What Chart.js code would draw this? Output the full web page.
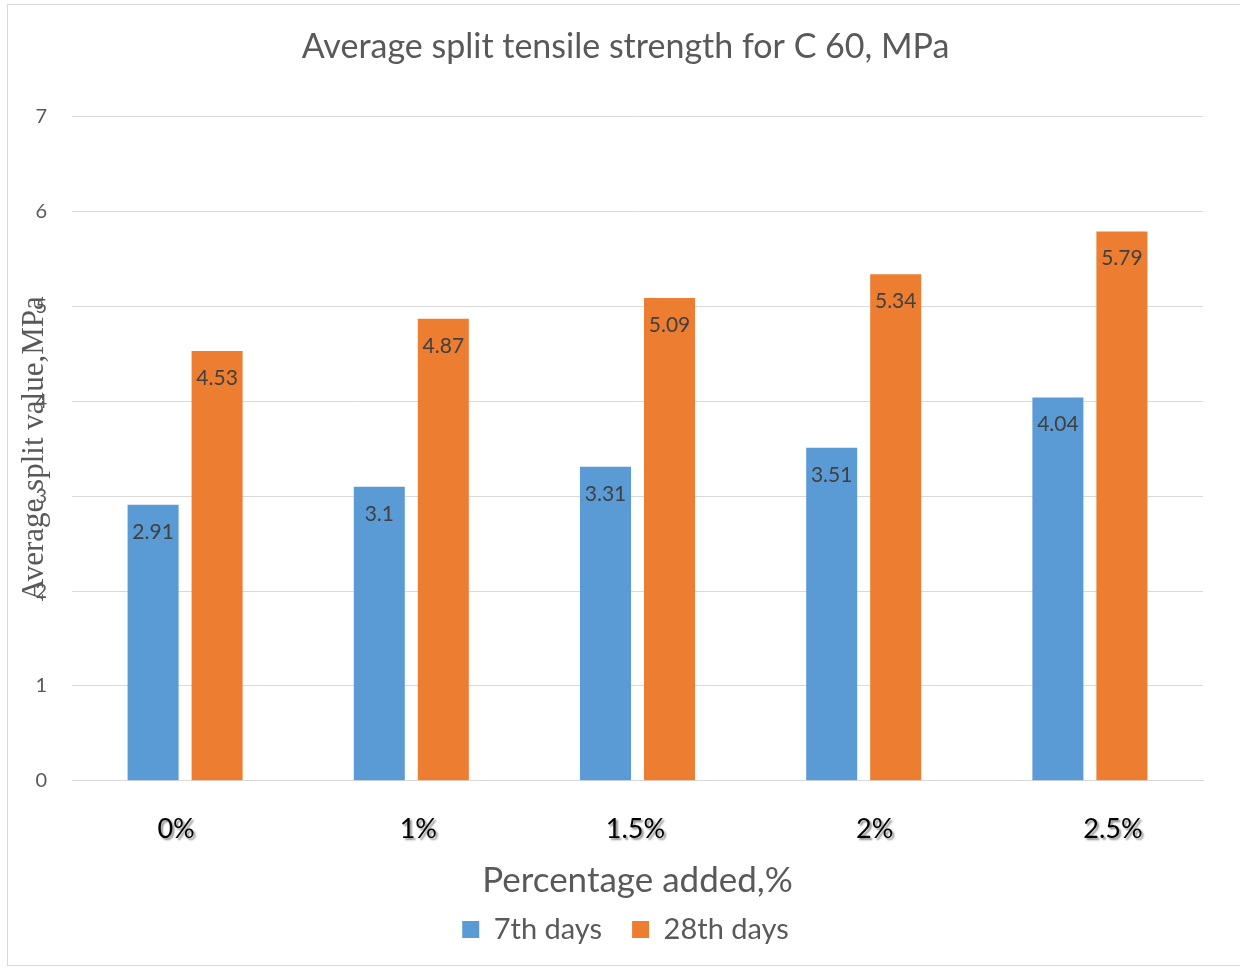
<!DOCTYPE html>
<html>
<head>
<meta charset="utf-8">
<script src="https://cdn.jsdelivr.net/npm/chart.js@4.4.1/dist/chart.umd.min.js"></script>
<style>
  html, body { margin: 0; padding: 0; background: #ffffff; }
  #wrap { width: 1240px; height: 970px; position: relative; }
</style>
</head>
<body>
<div id="wrap"><canvas id="c" width="1240" height="970"></canvas></div>
<script>
const categories = ['0%', '1%', '1.5%', '2%', '2.5%'];
const seriesNames = ['7th days', '28th days'];
const days7 = [2.91, 3.1, 3.31, 3.51, 4.04];
const days28 = [4.53, 4.87, 5.09, 5.34, 5.79];
const yTicks = [0, 1, 2, 3, 4, 5, 6, 7];
const chartTitle = 'Average split tensile strength for C 60, MPa';
const xTitle = 'Percentage added,%';
const yTitle = 'Average split value,MPa';

const FONT = 'Lato, "Open Sans", sans-serif';
const GREY = '#595959';

const frame = {
  id: 'frame',
  beforeDraw(chart) {
    const ctx = chart.ctx;
    ctx.save();
    ctx.fillStyle = '#fff';
    ctx.fillRect(0, 0, chart.width, chart.height);
    ctx.strokeStyle = '#d9d9d9';
    ctx.lineWidth = 1;
    ctx.strokeRect(7.5, 4.5, chart.width + 10, chart.height - 9);
    ctx.restore();
  }
};

const valueLabels = {
  id: 'valueLabels',
  afterDatasetsDraw(chart) {
    const ctx = chart.ctx;
    ctx.save();
    ctx.font = '21px ' + FONT;
    ctx.fillStyle = '#404040';
    ctx.textAlign = 'center';
    ctx.textBaseline = 'middle';
    chart.data.datasets.forEach((ds, di) => {
      chart.getDatasetMeta(di).data.forEach((bar, i) => {
        ctx.fillText(String(ds.data[i]), bar.x, bar.y + 27);
      });
    });
    ctx.restore();
  }
};

const xLabelShift = [-9, 7, -2, 11, 23];
const xLabels = {
  id: 'xLabels',
  afterDraw(chart) {
    const ctx = chart.ctx;
    const xs = chart.scales.x;
    ctx.save();
    ctx.font = '27px ' + FONT;
    ctx.fillStyle = '#000';
    ctx.textAlign = 'center';
    ctx.textBaseline = 'middle';
    ctx.shadowColor = 'rgba(0,0,0,0.45)';
    ctx.shadowOffsetX = 2;
    ctx.shadowOffsetY = 2;
    ctx.shadowBlur = 2;
    categories.forEach((c, i) => {
      ctx.fillText(c, xs.getPixelForValue(i) + xLabelShift[i], xs.top + 48);
    });
    ctx.restore();
  }
};

const yTitlePlugin = {
  id: 'yTitlePlugin',
  afterDraw(chart) {
    const ctx = chart.ctx;
    const ys = chart.scales.y;
    ctx.save();
    ctx.translate(35, (ys.top + ys.bottom) / 2);
    ctx.rotate(-Math.PI / 2);
    ctx.font = '31px "Liberation Serif", "DejaVu Serif", serif';
    ctx.fillStyle = GREY;
    ctx.textAlign = 'center';
    ctx.textBaseline = 'middle';
    ctx.fillText(yTitle, 0, 0);
    ctx.restore();
  }
};

new Chart(document.getElementById('c'), {
  type: 'bar',
  data: {
    labels: categories,
    datasets: [
      { label: seriesNames[0], data: days7, backgroundColor: '#5B9BD5', borderWidth: 0, yAxisID: 'y' },
      { label: seriesNames[1], data: days28, backgroundColor: '#ED7D31', borderWidth: 0, yAxisID: 'y' }
    ]
  },
  options: {
    responsive: false,
    animation: false,
    devicePixelRatio: 1,
    layout: { padding: { left: 11, right: 0, top: 0, bottom: 16 } },
    datasets: { bar: { categoryPercentage: 0.566, barPercentage: 0.797 } },
    plugins: {
      title: {
        display: true,
        text: chartTitle,
        color: GREY,
        font: { family: FONT, size: 34, weight: 'normal' },
        padding: { top: 27, bottom: 49 }
      },
      legend: {
        display: true,
        position: 'bottom',
        labels: {
          color: GREY,
          font: { family: FONT, size: 29 },
          boxWidth: 17,
          boxHeight: 17,
          padding: 30
        }
      },
      tooltip: { enabled: false }
    },
    scales: {
      x: {
        grid: { display: false, drawTicks: false },
        border: { display: true, color: '#d9d9d9', width: 1 },
        ticks: { display: true, color: 'rgba(0,0,0,0)', font: { family: FONT, size: 26 }, padding: 19 },
        title: {
          display: true,
          text: xTitle,
          color: GREY,
          font: { family: FONT, size: 35, weight: 'normal' },
          padding: { top: 10, bottom: -17 }
        }
      },
      y: {
        min: 0,
        max: 7,
        afterFit(s) { s.width = 61; },
        afterBuildTicks(s) { s.ticks = yTicks.map(v => ({ value: v })); },
        grid: { color: '#d9d9d9', lineWidth: 1, drawTicks: false },
        border: { display: false },
        ticks: { color: GREY, font: { family: FONT, size: 20 }, padding: 25, stepSize: 1 }
      },
      yR: {
        position: 'right',
        display: true,
        min: 0,
        max: 7,
        afterFit(s) { s.width = 37; },
        grid: { display: false, drawTicks: false },
        border: { display: false },
        ticks: { display: false }
      }
    }
  },
  plugins: [frame, valueLabels, xLabels, yTitlePlugin]
});
</script>
</body>
</html>
